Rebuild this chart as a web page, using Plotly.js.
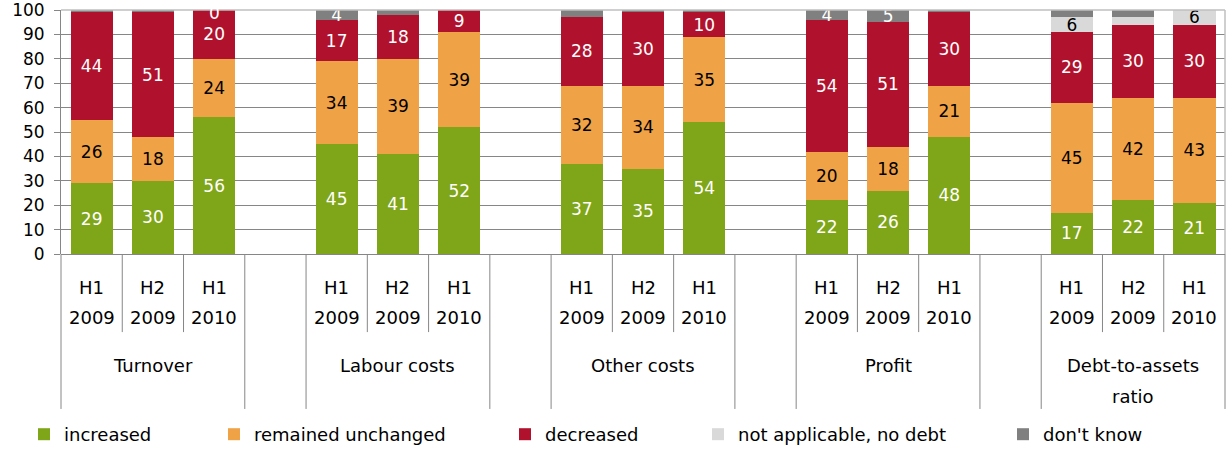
<!DOCTYPE html>
<html>
<head>
<meta charset="utf-8">
<script src="https://cdn.plot.ly/plotly-3.0.1.min.js"></script>
<style>html,body{margin:0;padding:0;background:#fff;}#chart{width:1230px;height:450px;}</style>
</head>
<body>
<div id="chart"></div>
<script>
// ---- data ----
var groups = ['Turnover', 'Labour costs', 'Other costs', 'Profit', 'Debt-to-assets<br>ratio'];
var periodHalf = ['H1', 'H2', 'H1'];
var periodYear = ['2009', '2009', '2010'];
var seriesNames = ['increased', 'remained unchanged', 'decreased', 'not applicable, no debt', "don't know"];
var increased = [29, 30, 56, 45, 41, 52, 37, 35, 54, 22, 26, 48, 17, 22, 21];
var unchanged = [26, 18, 24, 34, 39, 39, 32, 34, 35, 20, 18, 21, 45, 42, 43];
var decreased = [44, 51, 20, 17, 18, 9, 28, 30, 10, 54, 51, 30, 29, 30, 30];
var notApplicable = [0, 0, 0, 0, 0, 0, 0, 0, 0, 0, 0, 0, 6, 3, 6];
var dontKnow = [1, 1, 0, 4, 2, 0, 3, 1, 1, 4, 5, 1, 3, 3, 0];
// which small segments carry a printed label in the original
var notApplicableLabels = ['', '', '', '', '', '', '', '', '', '', '', '', '6', '', '6'];
var dontKnowLabels = ['', '', '0', '4', '', '', '', '', '', '4', '5', '', '', '', ''];
var yTicks = [0, 10, 20, 30, 40, 50, 60, 70, 80, 90, 100];

// ---- styling ----
var colors = ['#7FA619', '#F0A246', '#B0122E', '#D9D9D9', '#808080'];
var textColors = ['#ffffff', '#000000', '#ffffff', '#000000', '#ffffff'];
var FONT = 'DejaVu Sans';
var lineCol = '#868686';

var nPer = periodHalf.length;
var slotsPerGroup = nPer + 1;
var nSlots = groups.length * slotsPerGroup - 1;
var xMin = -0.5, xMax = nSlots - 0.5;
function toPaperX(v) { return (v - xMin) / (xMax - xMin); }

var xs = [];
for (var g = 0; g < groups.length; g++) {
  for (var p = 0; p < nPer; p++) xs.push(g * slotsPerGroup + p);
}

var values = [increased, unchanged, decreased, notApplicable, dontKnow];
var texts = [
  increased.map(String),
  unchanged.map(String),
  decreased.map(String),
  notApplicableLabels,
  dontKnowLabels
];
var legendIds = ['legend', 'legend2', 'legend3', 'legend4', 'legend5'];

var traces = values.map(function (vals, k) {
  return {
    type: 'bar',
    name: seriesNames[k],
    x: xs,
    y: vals,
    text: texts[k],
    textposition: 'inside',
    insidetextanchor: 'middle',
    textangle: 0,
    constraintext: 'none',
    cliponaxis: false,
    textfont: {family: FONT, size: 17, color: textColors[k]},
    marker: {color: colors[k], line: {width: 0}},
    legend: legendIds[k],
    hoverinfo: 'skip'
  };
});

// ---- shapes: dividers below axis, plot border ----
var shapes = [];
for (var b = 0; b <= nSlots; b++) {
  var pos = b - 0.5;
  var inGroup = b % slotsPerGroup;
  var isLong = (inGroup === 0 || inGroup === nPer);
  shapes.push({
    type: 'line', xref: 'paper', yref: 'paper',
    x0: toPaperX(pos), x1: toPaperX(pos),
    y0: 0, y1: isLong ? -0.635 : -0.32,
    line: {color: lineCol, width: 1}
  });
}
shapes.push({type: 'line', xref: 'paper', yref: 'paper', x0: 0, x1: 1, y0: 1, y1: 1,
  line: {color: '#BFBFBF', width: 1.5}});
shapes.push({type: 'line', xref: 'paper', yref: 'paper', x0: 1, x1: 1, y0: 0, y1: 1,
  line: {color: '#BFBFBF', width: 1.5}});

// ---- annotations: category labels ----
var annotations = [];
var labFont = {family: FONT, size: 18, color: '#000'};
for (var g2 = 0; g2 < groups.length; g2++) {
  for (var p2 = 0; p2 < nPer; p2++) {
    var xv = g2 * slotsPerGroup + p2;
    annotations.push({xref: 'x', yref: 'paper', x: xv, y: -0.139, text: periodHalf[p2],
      showarrow: false, yanchor: 'middle', font: labFont});
    annotations.push({xref: 'x', yref: 'paper', x: xv, y: -0.262, text: periodYear[p2],
      showarrow: false, yanchor: 'middle', font: labFont});
  }
  var lines = groups[g2].split('<br>');
  var center = g2 * slotsPerGroup + (nPer - 1) / 2;
  lines.forEach(function (ln, li) {
    annotations.push({xref: 'x', yref: 'paper', x: center, y: -0.459 - li * 0.123, text: ln,
      showarrow: false, yanchor: 'middle', font: labFont});
  });
}
// labels of zero-height segments (not drawn by bar text)
dontKnow.forEach(function (v, i) {
  if (v === 0 && dontKnowLabels[i] !== '') {
    var top = increased[i] + unchanged[i] + decreased[i] + notApplicable[i];
    annotations.push({xref: 'x', yref: 'y', x: xs[i], y: top, text: dontKnowLabels[i],
      showarrow: false, yanchor: 'middle', yshift: -3,
      font: {family: FONT, size: 17, color: textColors[4]}});
  }
});

// ---- legends ----
var legendLeft = [24, 214, 505, 698, 1003];
var layout = {
  width: 1230, height: 450,
  margin: {l: 61, r: 5, t: 10, b: 196},
  paper_bgcolor: '#fff', plot_bgcolor: '#fff',
  barmode: 'stack',
  bargap: 0.31,
  font: {family: FONT, size: 17, color: '#000'},
  showlegend: true,
  xaxis: {range: [xMin, xMax], showticklabels: false, showgrid: false, zeroline: false,
    showline: false, ticks: '', fixedrange: true},
  yaxis: {range: [0, 100], tickvals: yTicks, ticktext: yTicks.map(String),
    showgrid: true, gridcolor: lineCol, gridwidth: 1,
    zeroline: true, zerolinecolor: lineCol, zerolinewidth: 1,
    showline: true, linecolor: lineCol, linewidth: 1,
    ticks: 'outside', ticklen: 6, tickcolor: lineCol, tickwidth: 1,
    ticklabelstandoff: 6, ticklabeloverflow: 'allow',
    tickfont: {family: FONT, size: 17, color: '#000'}, fixedrange: true},
  shapes: shapes,
  annotations: annotations
};
legendIds.forEach(function (id, k) {
  layout[id] = {
    orientation: 'h', xref: 'container', yref: 'container',
    x: legendLeft[k] / 1230, y: (450 - 434.5) / 450,
    xanchor: 'left', yanchor: 'middle',
    bgcolor: 'rgba(0,0,0,0)', borderwidth: 0,
    font: {family: FONT, size: 18, color: '#000'},
    itemwidth: 30, itemclick: false, itemdoubleclick: false
  };
});

Plotly.newPlot('chart', traces, layout, {displayModeBar: false, staticPlot: true});
</script>
</body>
</html>
